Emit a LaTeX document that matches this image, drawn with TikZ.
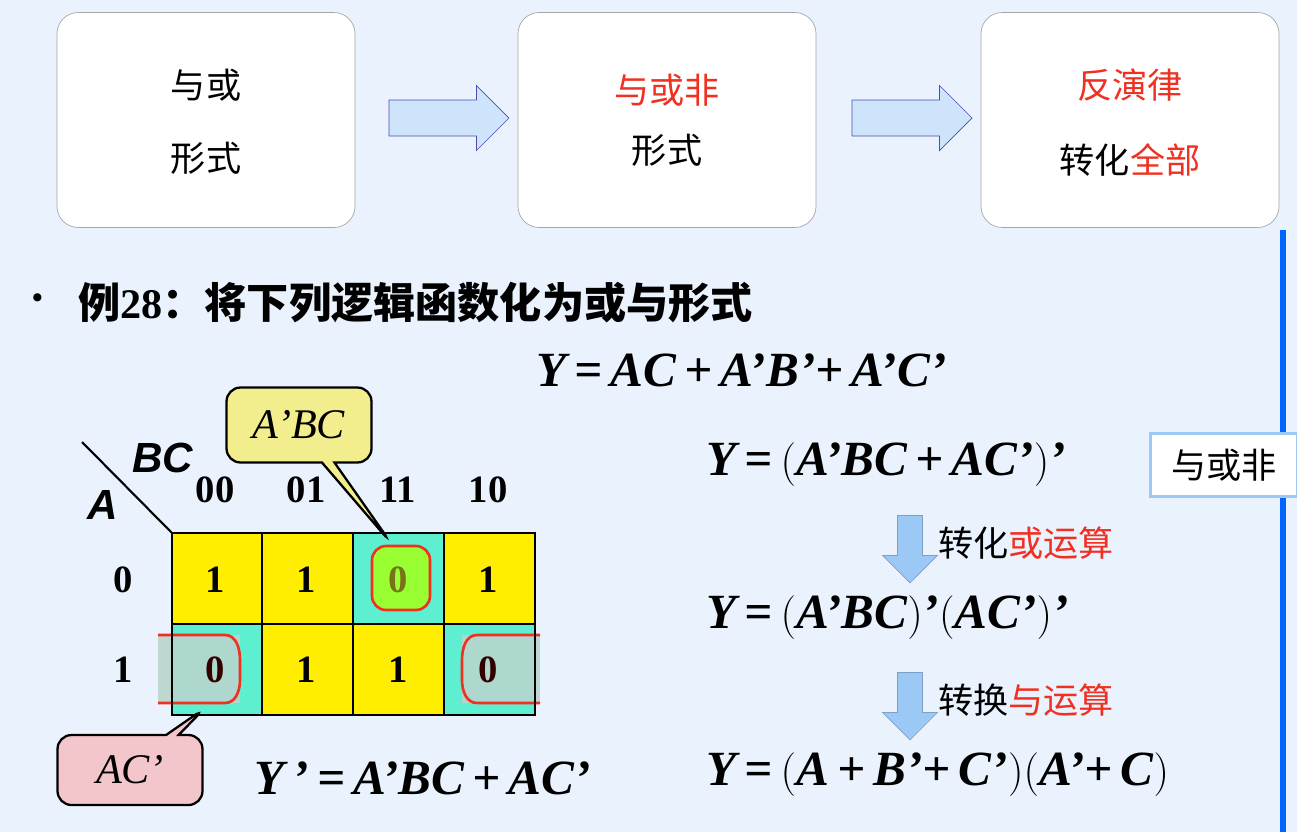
\documentclass[tikz,border=0pt]{standalone}
\usepackage{fontspec}
\setmainfont{Liberation Serif}
\newfontfamily\cjk{Noto Sans CJK SC}
\newfontfamily\sans{Liberation Sans}
\usetikzlibrary{shapes.arrows,shapes.callouts}
\definecolor{bg}{HTML}{EAF3FD}
\definecolor{kyel}{HTML}{FFEE00}
\definecolor{kcyan}{HTML}{5EEFD0}
\definecolor{kred}{HTML}{F03020}
\definecolor{arrblue}{HTML}{9CC8F5}
\definecolor{callyel}{HTML}{F2EE8E}
\definecolor{callpink}{HTML}{F2C6CB}
\newcommand\lp{$\Bigl($}
\newcommand\rp{$\Bigr)$}
\tikzset{
  topbox/.style={draw=gray!70,fill=white,rounded corners=12pt,minimum width=5.96cm,minimum height=4.3cm},
  bigarrow/.style={single arrow,draw=gray!60!blue,fill=arrblue!50,minimum height=2.4cm,minimum width=1.3cm,single arrow head extend=0.1cm},
  downarrow/.style={single arrow,shape border rotate=270,draw=arrblue!80!black,fill=arrblue,minimum height=1.35cm,minimum width=1.1cm,single arrow head extend=0.15cm},
  boxtxt/.style={font=\cjk\fontsize{20}{24}\selectfont},
  eqtext/.style={font=\bfseries\itshape\fontsize{28}{32}\selectfont,anchor=west},
  lbl/.style={font=\bfseries\fontsize{22}{26}\selectfont},
}
\begin{document}
\begin{tikzpicture}[x=0.02cm,y=-0.02cm]
  \fill[bg] (0,0) rectangle (1297,832);
  \useasboundingbox (0,0) rectangle (1297,832);

  % top boxes
  \node[topbox] (box1) at (206,120) {};
  \node[topbox] (box2) at (667,120) {};
  \node[topbox] (box3) at (1130,120) {};
  \node[boxtxt] (b1a) at (206,85) {与或};
  \node[boxtxt] (b1b) at (206,158) {形式};
  \node[boxtxt,text=kred] (b2a) at (667,90) {与或非};
  \node[boxtxt] (b2b) at (667,150) {形式};
  \node[boxtxt,text=kred] (b3a) at (1130,85) {反演律};
  \node[boxtxt] (b3b) at (1130,160) {转化\textcolor{kred}{全部}};
  \node[bigarrow] (arr1) at (440,118) {};
  \node[bigarrow] (arr2) at (903,118) {};

  % right edge line
  \draw[line width=3pt,blue!60!cyan] (1283,230) -- (1283,832);

  % title line
  \node[font=\cjk\fontsize{22}{26}\selectfont] (dot) at (38,303) {•};
  \node[font=\cjk\bfseries\fontsize{24}{28}\selectfont,anchor=west] (title) at (72,303) {例\textrm{\bfseries 28}：将下列逻辑函数化为或与形式};
  \node[eqtext] (eq0) at (530,370) {Y\,=\,AC\,+\,A'B'+\,A'C'};

  % Karnaugh map
  \fill[kyel] (172,533) rectangle (535,715);
  \fill[kcyan] (353,533) rectangle (444,624);
  \fill[kcyan] (172,624) rectangle (262,715);
  \fill[kcyan] (444,624) rectangle (535,715);
  \fill[callpink!60!kcyan,opacity=0.9] (158,635) rectangle (240,703);
  \fill[callpink!60!kcyan,opacity=0.9] (462,635) rectangle (540,703);
  \draw[kred,line width=1.5pt] (158,635) -- (225,635) to[out=0,in=90] (240,660) -- (240,680) to[out=270,in=0] (225,703) -- (158,703);
  \draw[kred,line width=1.5pt] (540,635) -- (477,635) to[out=180,in=90] (462,660) -- (462,680) to[out=270,in=180] (477,703) -- (540,703);
  \foreach \x in {262,353,444}{
    \draw[line width=1.5pt] (\x,533) -- (\x,715);
  }
  \draw[line width=1.5pt] (172,624) -- (535,624);
  \draw[line width=1.5pt] (172,533) rectangle (535,715);
  \draw[fill=green!50!yellow!80,draw=kred,line width=1.5pt,rounded corners=8pt] (372,546) rectangle (430,610);
  \node[lbl] (m00) at (215,580) {1};
  \node[lbl] (m01) at (306,580) {1};
  \node[lbl,text=olive!80!black] (m11) at (398,580) {0};
  \node[lbl] (m10) at (488,580) {1};
  \node[lbl,text=black!80!red] (m100) at (215,670) {0};
  \node[lbl] (m101) at (306,670) {1};
  \node[lbl] (m111) at (398,670) {1};
  \node[lbl,text=black!80!red] (m110) at (488,670) {0};
  \node[lbl] (c00) at (215,490) {00};
  \node[lbl] (c01) at (306,490) {01};
  \node[lbl] (c11) at (398,490) {11};
  \node[lbl] (c10) at (488,490) {10};
  \node[lbl] (r0) at (123,580) {0};
  \node[lbl] (r1) at (123,670) {1};
  \coordinate (corner) at (172,533);
  \coordinate (diag) at (82,442);
  \draw[line width=1.2pt] (diag) -- (corner);
  \node[font=\sans\bfseries\itshape\fontsize{24}{28}\selectfont] (lbc) at (163,458) {BC};
  \node[font=\sans\bfseries\itshape\fontsize{24}{28}\selectfont] (la) at (103,505) {A};

  % callouts
  \node[rectangle callout,rounded corners=8pt,draw,line width=1.3pt,fill=callyel,minimum width=2.9cm,minimum height=1.5cm,
        callout absolute pointer={(391,543)},font=\itshape\fontsize{24}{28}\selectfont] (cabc) at (299,425) {A’BC};
  \node[rectangle callout,rounded corners=8pt,draw,line width=1.3pt,fill=callpink,minimum width=2.9cm,minimum height=1.4cm,
        callout absolute pointer={(205,708)},font=\itshape\fontsize{24}{28}\selectfont] (cac) at (130,770) {AC’};

  \node[eqtext] (eqn) at (248,778) {Y\,'\,=\,A'BC\,+\,AC'};

  % right derivation
  \node[eqtext] (eq1) at (700,465) {Y\,=\,\lp A'BC\,+\,AC'\rp'};
  \node[draw=arrblue,line width=1.5pt,fill=white,minimum width=2.95cm,minimum height=1.25cm,boxtxt] (tag) at (1224,465) {与或非};
  \node[downarrow] (d1) at (910,543) {};
  \node[boxtxt,anchor=west] (t1) at (932,543) {转化\textcolor{kred}{或运算}};
  \node[eqtext] (eq2) at (700,618) {Y\,=\,\lp A'BC\rp'\lp AC'\rp'};
  \node[downarrow] (d2) at (910,700) {};
  \node[boxtxt,anchor=west] (t2) at (932,700) {转换\textcolor{kred}{与运算}};
  \node[eqtext] (eq3) at (700,775) {Y\,=\,\lp A\,+\,B'+\,C'\rp\lp A'+\,C\rp};
\end{tikzpicture}
\end{document}
